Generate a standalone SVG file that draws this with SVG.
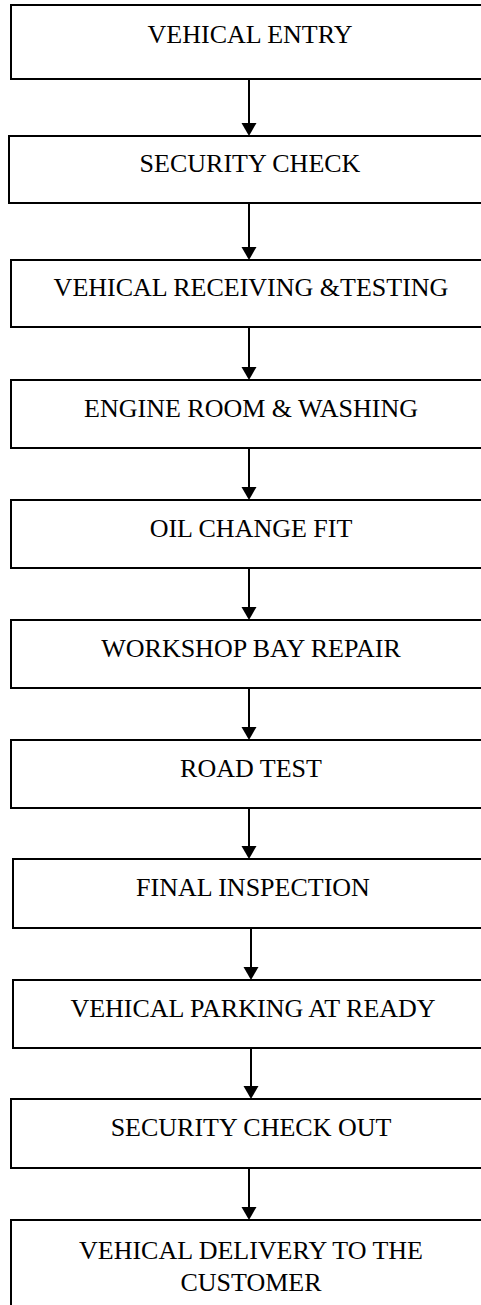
<svg xmlns="http://www.w3.org/2000/svg" width="481" height="1305" viewBox="0 0 481 1305">
<style>
.box{fill:#fff;stroke:#000;stroke-width:2}
.lbl{font-family:"Liberation Serif","Times New Roman",serif;font-size:26px;fill:#000;text-anchor:middle}
.conn{stroke:#000;stroke-width:2;fill:none}
.head{fill:#000}
</style>
<rect width="481" height="1305" fill="#fff"/>
<g id="connectors">
<line class="conn" x1="249" y1="79" x2="249" y2="124"/><polygon class="head" points="241.5,123 256.5,123 249,136"/>
<line class="conn" x1="249" y1="203" x2="249" y2="248"/><polygon class="head" points="241.5,247 256.5,247 249,260"/>
<line class="conn" x1="249" y1="327" x2="249" y2="368"/><polygon class="head" points="241.5,367 256.5,367 249,380"/>
<line class="conn" x1="249" y1="448" x2="249" y2="488"/><polygon class="head" points="241.5,487 256.5,487 249,500"/>
<line class="conn" x1="249" y1="568" x2="249" y2="608"/><polygon class="head" points="241.5,607 256.5,607 249,620"/>
<line class="conn" x1="249" y1="688" x2="249" y2="728"/><polygon class="head" points="241.5,727 256.5,727 249,740"/>
<line class="conn" x1="249" y1="808" x2="249" y2="847"/><polygon class="head" points="241.5,846 256.5,846 249,859"/>
<line class="conn" x1="251" y1="928" x2="251" y2="968"/><polygon class="head" points="243.5,967 258.5,967 251,980"/>
<line class="conn" x1="251" y1="1048" x2="251" y2="1087"/><polygon class="head" points="243.5,1086 258.5,1086 251,1099"/>
<line class="conn" x1="249" y1="1168" x2="249" y2="1208"/><polygon class="head" points="241.5,1207 256.5,1207 249,1220"/>
</g>
<g id="n1"><rect class="box" x="11" y="5" width="490" height="74"/><text class="lbl" x="250" y="43">VEHICAL ENTRY</text></g>
<g id="n2"><rect class="box" x="9" y="136" width="490" height="67"/><text class="lbl" x="250" y="172">SECURITY CHECK</text></g>
<g id="n3"><rect class="box" x="11" y="260" width="490" height="67"/><text class="lbl" x="251" y="296">VEHICAL RECEIVING &amp;TESTING</text></g>
<g id="n4"><rect class="box" x="11" y="380" width="490" height="68"/><text class="lbl" x="251" y="417">ENGINE ROOM &amp; WASHING</text></g>
<g id="n5"><rect class="box" x="11" y="500" width="490" height="68"/><text class="lbl" x="251" y="537">OIL CHANGE FIT</text></g>
<g id="n6"><rect class="box" x="11" y="620" width="490" height="68"/><text class="lbl" x="251" y="657">WORKSHOP BAY REPAIR</text></g>
<g id="n7"><rect class="box" x="11" y="740" width="490" height="68"/><text class="lbl" x="251" y="777">ROAD TEST</text></g>
<g id="n8"><rect class="box" x="13" y="859" width="490" height="69"/><text class="lbl" x="253" y="896">FINAL INSPECTION</text></g>
<g id="n9"><rect class="box" x="13" y="980" width="490" height="68"/><text class="lbl" x="253" y="1017">VEHICAL PARKING AT READY</text></g>
<g id="n10"><rect class="box" x="11" y="1099" width="490" height="69"/><text class="lbl" x="251" y="1136">SECURITY CHECK OUT</text></g>
<g id="n11"><rect class="box" x="11" y="1220" width="490" height="110"/><text class="lbl" x="251" y="1259">VEHICAL DELIVERY TO THE</text><text class="lbl" x="251" y="1291">CUSTOMER</text></g>
</svg>
